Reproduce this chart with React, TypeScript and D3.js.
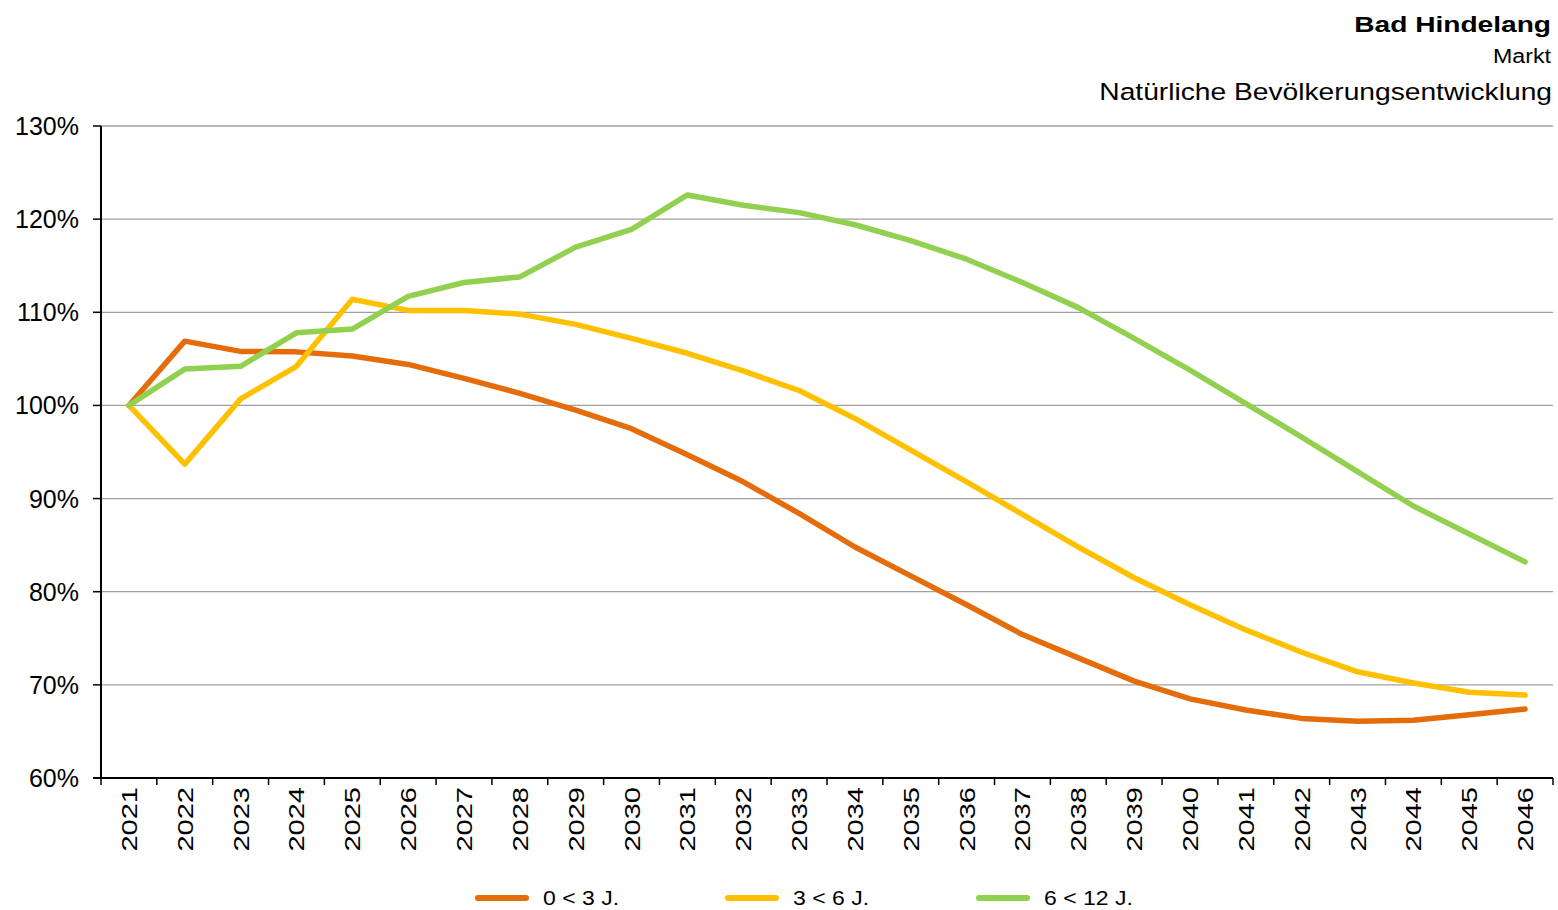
import React from "react";
import * as d3 from "d3";

const years = [2021,2022,2023,2024,2025,2026,2027,2028,2029,2030,2031,2032,2033,2034,2035,2036,2037,2038,2039,2040,2041,2042,2043,2044,2045,2046];
const s0to3 = [100,106.9,105.8,105.75,105.3,104.4,102.9,101.3,99.5,97.5,94.7,91.8,88.4,84.8,81.7,78.6,75.4,72.9,70.4,68.5,67.3,66.4,66.1,66.2,66.8,67.4];
const s3to6 = [100,93.7,100.7,104.2,111.4,110.2,110.2,109.8,108.7,107.2,105.6,103.7,101.6,98.6,95.2,91.8,88.3,84.8,81.5,78.6,75.9,73.5,71.4,70.2,69.2,68.9];
const s6to12 = [100,103.9,104.2,107.8,108.2,111.7,113.2,113.8,117.0,118.9,122.6,121.5,120.7,119.4,117.7,115.7,113.2,110.5,107.2,103.8,100.2,96.6,92.9,89.2,86.2,83.2];
const yTicks = [60,70,80,90,100,110,120,130];
const seriesNames = ["0 < 3 J.", "3 < 6 J.", "6 < 12 J."];
const colors = ["#E46C0A", "#FFC000", "#92D050"];

export default function App() {
  const W = 1558, H = 910;
  const left = 101, right = 1553, top = 126, bottom = 778;
  const x = d3.scaleBand<number>().domain(years).range([left, right]);
  const cx = (yr: number) => (x(yr) as number) + x.bandwidth() / 2;
  const y = d3.scaleLinear().domain([60, 130]).range([bottom, top]);
  const line = d3.line<number>().x((_, i) => cx(years[i])).y((v) => y(v));
  const series = [s0to3, s3to6, s6to12];
  const font = "Arial, 'Liberation Sans', sans-serif";
  const legendX = [478, 728, 979];
  return (
    <svg width={W} height={H} style={{ position: "absolute", left: 0, top: 0, background: "#fff" }} fontFamily={font}>
      <rect width={W} height={H} fill="#fff" />
      <text transform="translate(1551,32) scale(1.25,1)" textAnchor="end" fontSize={22.5} fontWeight="bold" fill="#000">Bad Hindelang</text>
      <text transform="translate(1551,63) scale(1.19,1)" textAnchor="end" fontSize={19.5} fill="#000">Markt</text>
      <text transform="translate(1552,100) scale(1.2,1)" textAnchor="end" fontSize={23.5} fill="#000">Natürliche Bevölkerungsentwicklung</text>
      {yTicks.map((t) => (
        <g key={t}>
          {t > 60 && <line x1={left} x2={right} y1={y(t)} y2={y(t)} stroke="#a0a0a0" strokeWidth={1.3} />}
          <line x1={93} x2={left} y1={y(t)} y2={y(t)} stroke="#000" strokeWidth={1.5} />
          <text x={79} y={y(t) + 9} textAnchor="end" fontSize={25} fill="#000">{t}%</text>
        </g>
      ))}
      <line x1={left} x2={left} y1={top} y2={bottom} stroke="#000" strokeWidth={2} />
      <line x1={left - 8} x2={right} y1={bottom} y2={bottom} stroke="#000" strokeWidth={2} />
      {years.map((yr) => (
        <line key={"t" + yr} x1={x(yr) as number} x2={x(yr) as number} y1={bottom} y2={bottom + 7} stroke="#000" strokeWidth={1.5} />
      ))}
      <line x1={right} x2={right} y1={bottom} y2={bottom + 7} stroke="#000" strokeWidth={1.5} />
      {years.map((yr) => (
        <text key={"l" + yr} transform={`translate(${cx(yr) + 8},787) rotate(-90) scale(1.32,1)`} textAnchor="end" fontSize={22} fill="#000">{yr}</text>
      ))}
      {series.map((s, i) => (
        <path key={i} d={line(s) as string} fill="none" stroke={colors[i]} strokeWidth={5.5} strokeLinejoin="round" strokeLinecap="round" />
      ))}
      {seriesNames.map((n, i) => (
        <g key={n}>
          <line x1={legendX[i]} x2={legendX[i] + 48} y1={898} y2={898} stroke={colors[i]} strokeWidth={6} strokeLinecap="round" />
          <text transform={`translate(${legendX[i] + 65},905) scale(1.15,1)`} fontSize={20} fill="#000">{n}</text>
        </g>
      ))}
    </svg>
  );
}
